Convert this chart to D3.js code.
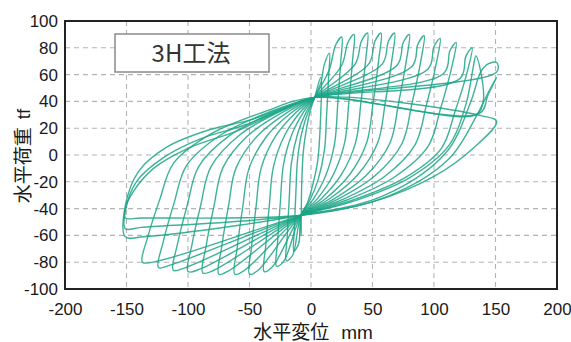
<!DOCTYPE html>
<html>
<head>
<meta charset="utf-8">
<script src="https://cdn.jsdelivr.net/npm/d3@7"></script>
<style>
  html, body { margin: 0; padding: 0; background: #fff; }
  svg { display: block; }
</style>
</head>
<body>
<svg id="chart" width="571" height="342"></svg>
<script>
// axis ticks
const xTicks = [-200, -150, -100, -50, 0, 50, 100, 150, 200];
const yTicks = [-100, -80, -60, -40, -20, 0, 20, 40, 60, 80, 100];

// pinch points every loop runs through (mm, tf)
const upperCross = [3, 43];
const lowerCross = [-8, -45];

// positive half of each cycle: lower cross -> peak -> unloading
const posBranches = [
  [[-3, -36], [1.5, -22], [5.5, -4], [7.5, 22], [8, 58]],
  [[-1.1, -34.1], [5.8, -18.4], [10.9, 3.4], [12.7, 30], [14.3, 57.9], [15, 76], [11, 68], [8, 54]],
  [[1.9, -33], [11.8, -15.7], [19.1, 8.2], [21.7, 37.5], [24, 68], [25, 88], [20, 82], [15, 64]],
  [[4.9, -32.9], [17.8, -15.3], [27.3, 9], [30.7, 38.7], [33.7, 69.8], [35, 90], [30, 84], [25, 67]],
  [[8.2, -32.8], [24.4, -15.1], [36.3, 9.4], [40.6, 39.3], [44.4, 70.6], [46, 91], [41, 85], [36, 68]],
  [[11.5, -32.8], [31, -15.1], [45.3, 9.4], [50.5, 39.3], [55, 70.6], [57, 91], [52, 85], [47, 68]],
  [[14.8, -32.8], [37.6, -15.1], [54.3, 9.4], [60.4, 39.3], [65.7, 70.6], [68, 91], [63, 85], [58, 68]],
  [[18.4, -32.9], [44.8, -15.3], [64.2, 9], [71.2, 38.7], [77.4, 69.8], [80, 90], [75, 84], [70, 67]],
  [[22, -32.9], [52, -15.5], [74, 8.6], [82, 38.1], [89, 68.9], [92, 89], [87, 83], [82, 66]],
  [[25.9, -33.1], [59.8, -16], [84.7, 7.8], [93.7, 36.8], [101.6, 67.2], [105, 87], [100, 81], [95, 64]],
  [[29.8, -33.4], [67.6, -16.6], [95.3, 6.6], [105.4, 35], [114.2, 64.7], [118, 84], [113, 78], [108, 61]],
  [[33.7, -33.75], [75.4, -17.5], [106, 5], [117.1, 32.5], [126.8, 61.25], [131, 80], [126, 74], [121, 57]],
  [[36, -34], [80, -17], [112, 7], [126, 38], [132, 66], [134, 74], [138, 62], [140, 40], [134, 30]],
  [[60, -30], [110, 2], [130, 40], [138, 62], [144, 68], [151, 69], [151, 62]],
  [[62, -31], [112, -3], [135, 30], [146, 50], [151, 58], [144, 45], [137, 31]],
  [[50, -35], [100, -16], [133, 6], [151, 25], [140, 29]]
];

// negative half of each cycle: upper cross -> valley -> reloading
const negBranches = [
  [[-0.3, 34], [-3.6, 20], [-6.3, 2], [-7.6, -24], [-8, -60]],
  [[-2.1, 32.65], [-7.2, 17.7], [-10.9, -3], [-12.3, -28.3], [-13.5, -54.75], [-14, -72], [-10, -66]],
  [[-3.9, 32], [-10.8, 16.2], [-15.9, -5.8], [-17.7, -32.6], [-19.3, -60.7], [-20, -79], [-15, -75]],
  [[-6.3, 31.7], [-15.6, 15.3], [-22.4, -7.4], [-24.9, -35.1], [-27.1, -64.1], [-28, -83], [-22, -79]],
  [[-9.3, 31.3], [-21.6, 14.4], [-30.6, -9], [-33.9, -37.6], [-36.8, -67.5], [-38, -87], [-31, -83]],
  [[-12.9, 31.1], [-28.8, 14], [-40.5, -9.8], [-44.7, -38.8], [-48.4, -69.2], [-50, -89], [-43, -86]],
  [[-16.5, 31.1], [-36, 14], [-50.3, -9.8], [-55.5, -38.8], [-60, -69.2], [-62, -89], [-54, -86]],
  [[-20.4, 31.1], [-43.8, 14], [-61, -9.8], [-67.2, -38.8], [-72.7, -69.2], [-75, -89], [-67, -86.5]],
  [[-24.3, 31.2], [-51.6, 14.2], [-71.6, -9.4], [-78.9, -38.2], [-85.3, -68.1], [-88, -88], [-79, -86]],
  [[-27.9, 31.3], [-58.8, 14.4], [-81.5, -9], [-89.7, -37.6], [-96.9, -67.5], [-100, -87], [-90, -85]],
  [[-31.5, 31.4], [-66, 14.6], [-91.3, -8.6], [-100.5, -37], [-108.6, -66.65], [-112, -86], [-102, -84]],
  [[-35.1, 31.6], [-73.2, 15.1], [-101.1, -7.8], [-111.3, -35.7], [-120.2, -65], [-124, -84], [-114, -82]],
  [[-39, 31.9], [-81, 15.9], [-111.8, -6.2], [-123, -33.3], [-132.8, -61.5], [-137, -80], [-124, -79]],
  [[-20, 36], [-50, 26], [-82, 19], [-117, 6], [-140, -12], [-151, -38], [-151, -61], [-136, -61]],
  [[-20, 35], [-55, 22], [-90, 12], [-120, -2], [-142, -20], [-151, -42], [-151, -55], [-138, -54]],
  [[-25, 33], [-60, 18], [-100, 5], [-128, -10], [-145, -28], [-151, -40], [-151, -47], [-138, -47]]
];

const title = "3H工法";
const xTitle = "水平変位";
const xUnit = "mm";
const yTitle = "水平荷重";
const yUnit = "tf";

const svg = d3.select("#chart");
const plotL = 65, plotR = 557, plotT = 21, plotB = 289;
const numFont = "'Liberation Sans', Arial, sans-serif";
const cjkFont = "'Noto Sans CJK JP', sans-serif";

const x = d3.scaleLinear().domain([-200, 200]).range([plotL, plotR]);
const y = d3.scaleLinear().domain([-100, 100]).range([plotB, plotT]);

svg.append("rect").attr("width", 571).attr("height", 342).attr("fill", "#fff");

// dashed grid
const grid = svg.append("g")
  .attr("stroke", "#b4b4b4")
  .attr("stroke-width", 1.1)
  .attr("stroke-dasharray", "5,4");
grid.selectAll("line.v")
  .data(xTicks.slice(1, -1))
  .enter().append("line")
  .attr("x1", d => x(d)).attr("x2", d => x(d))
  .attr("y1", plotT).attr("y2", plotB);
grid.selectAll("line.h")
  .data(yTicks.slice(1, -1))
  .enter().append("line")
  .attr("x1", plotL).attr("x2", plotR)
  .attr("y1", d => y(d)).attr("y2", d => y(d));

// hysteresis loops
const line = d3.line()
  .x(d => x(d[0]))
  .y(d => y(d[1]))
  .curve(d3.curveCatmullRomClosed.alpha(0.5));

svg.append("g")
  .selectAll("path")
  .data(posBranches.map((p, i) => [lowerCross, ...p, upperCross, ...negBranches[i]]))
  .enter().append("path")
  .attr("d", line)
  .attr("fill", "none")
  .attr("stroke", "#1ba486")
  .attr("stroke-opacity", 0.85)
  .attr("stroke-width", 1.4);

// frame
svg.append("rect")
  .attr("x", plotL).attr("y", plotT)
  .attr("width", plotR - plotL).attr("height", plotB - plotT)
  .attr("fill", "none")
  .attr("stroke", "#222")
  .attr("stroke-width", 2);

// axes (labels only)
const xAxis = svg.append("g")
  .attr("transform", `translate(0,${plotB})`)
  .call(d3.axisBottom(x).tickValues(xTicks).tickFormat(d => String(d)).tickSize(0).tickPadding(14));
const yAxis = svg.append("g")
  .attr("transform", `translate(${plotL},0)`)
  .call(d3.axisLeft(y).tickValues(yTicks).tickFormat(d => String(d)).tickSize(0).tickPadding(7));
[xAxis, yAxis].forEach(g => {
  g.select(".domain").remove();
  g.selectAll("text")
    .attr("fill", "#1a1a1a")
    .style("font-family", numFont)
    .style("font-size", "17px");
});

// title box
svg.append("rect")
  .attr("x", 115).attr("y", 34)
  .attr("width", 154).attr("height", 38)
  .attr("fill", "#fff")
  .attr("stroke", "#8a8a8a")
  .attr("stroke-width", 1.5);
svg.append("text")
  .attr("x", 191).attr("y", 62)
  .attr("text-anchor", "middle")
  .attr("fill", "#333")
  .style("font-family", cjkFont)
  .style("font-size", "24px")
  .text(title);

// axis titles
const xt = svg.append("text")
  .attr("x", 313).attr("y", 339)
  .attr("text-anchor", "middle")
  .attr("fill", "#1a1a1a")
  .style("font-size", "19px");
xt.append("tspan").style("font-family", cjkFont).text(xTitle);
xt.append("tspan").attr("dx", 12).style("font-family", numFont).text(xUnit);

const yt = svg.append("text")
  .attr("transform", "translate(30,156) rotate(-90)")
  .attr("text-anchor", "middle")
  .attr("fill", "#1a1a1a")
  .style("font-size", "19px");
yt.append("tspan").style("font-family", cjkFont).text(yTitle);
yt.append("tspan").attr("dx", 8).style("font-family", numFont).text(yUnit);
</script>
</body>
</html>
